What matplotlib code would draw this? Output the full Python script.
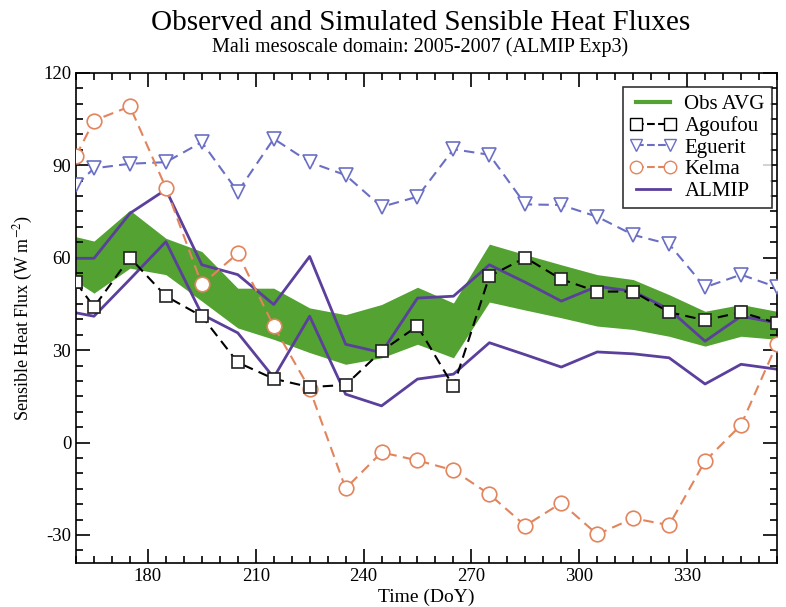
import matplotlib
matplotlib.use('Agg')
import matplotlib.pyplot as plt
from matplotlib.lines import Line2D
from matplotlib.ticker import MultipleLocator

plt.rcParams['font.family'] = ['Liberation Serif', 'DejaVu Serif']
plt.rcParams['mathtext.fontset'] = 'stix'
plt.rcParams['axes.unicode_minus'] = False

# Day of year for each point
days = [160, 165, 175, 185, 195, 205, 215, 225, 235, 245, 255,
        265, 275, 285, 295, 305, 315, 325, 335, 345, 355]

# Observed range (green band)
obs_max = [66.8, 65.4, 75.4, 66.3, 62.0, 50.1, 50.1, 43.7, 41.5, 44.8, 50.4,
           45.3, 64.4, 61.0, 57.7, 54.5, 52.9, 48.0, 42.6, 44.8, 42.6]
obs_min = [52.3, 48.5, 56.6, 54.5, 45.9, 37.2, 33.5, 29.2, 25.4, 27.5, 31.9,
           27.5, 45.6, 43.0, 40.5, 37.8, 36.7, 34.5, 31.3, 34.5, 33.5]

# Sites
agoufou = [52.0, 44.0, 60.0, 47.5, 41.0, 26.0, 20.7, 18.0, 18.7, 29.7, 37.8,
           18.2, 54.0, 60.0, 53.0, 49.0, 49.0, 42.3, 39.7, 42.3, 38.8]
eguerit = [83.5, 89.0, 90.5, 91.0, 97.5, 81.4, 98.6, 91.0, 86.8, 76.5, 79.8,
           95.2, 93.4, 77.3, 77.1, 73.3, 67.4, 64.4, 50.4, 54.5, 50.4]
kelma = [93.0, 104.5, 109.1, 82.7, 51.3, 61.4, 37.8, 17.4, -14.9, -3.2, -5.8,
         -9.0, -16.8, -27.0, -19.6, -29.8, -24.6, -26.8, -6.0, 5.7, 32.0]

# ALMIP model envelope
almip_max = [59.8, 59.8, 74.4, 82.1, 57.7, 54.5, 44.8, 60.4, 31.9, 29.2, 46.9,
             47.5, 57.7, 52.0, 45.9, 50.7, 49.1, 43.2, 32.9, 41.0, 38.8]
almip_min = [42.1, 41.0, 53.0, 65.2, 41.6, 35.6, 21.1, 41.0, 15.7, 11.9, 20.6,
             22.2, 32.4, 28.5, 24.5, 29.4, 28.8, 27.5, 19.0, 25.4, 23.8]

green = '#53a232'
blue = '#6b6fc4'
orange = '#e2845c'
purple = '#5b3f9c'

fig = plt.figure(figsize=(7.86, 6.07), dpi=100)
ax = fig.add_axes([0.0967, 0.073, 0.8918, 0.807])

ax.fill_between(days, obs_min, obs_max, color=green, lw=0, zorder=1)
ax.plot(days, almip_max, color=purple, lw=2, zorder=2)
ax.plot(days, almip_min, color=purple, lw=2, zorder=2)
ax.plot(days, eguerit, color=blue, ls='--', lw=1.5, dashes=(5, 3), marker='v',
        ms=10, mfc='white', mec=blue, mew=1.2, zorder=3)
ax.plot(days, kelma, color=orange, ls='--', lw=1.5, dashes=(5, 3), marker='o',
        ms=10.5, mfc='white', mec=orange, mew=1.2, zorder=4)
ax.plot(days, agoufou, color='black', ls='--', lw=1.5, dashes=(5, 3), marker='s',
        ms=9, mfc='white', mec='#222222', mew=1.2, zorder=5)

ax.set_xlim(160, 355)
ax.set_ylim(-39, 120)
ax.xaxis.set_major_locator(MultipleLocator(30))
ax.xaxis.set_minor_locator(MultipleLocator(5))
ax.yaxis.set_major_locator(MultipleLocator(30))
ax.yaxis.set_minor_locator(MultipleLocator(5))
ax.tick_params(which='both', direction='in', top=True, right=True,
               labelsize=13.5, width=1.2)
ax.tick_params(which='major', length=10)
ax.tick_params(which='minor', length=5)
ax.set_xticks([180, 210, 240, 270, 300, 330])
for s in ax.spines.values():
    s.set_linewidth(1.2)

ax.set_xlabel('Time (DoY)', fontsize=14, labelpad=3)
ax.set_ylabel('Sensible Heat Flux (W m$^{-2}$)', fontsize=13, labelpad=6)

fig.text(0.535, 0.962, 'Observed and Simulated Sensible Heat Fluxes',
         ha='center', va='center', fontsize=21)
fig.text(0.535, 0.922, 'Mali mesoscale domain: 2005-2007 (ALMIP Exp3)',
         ha='center', va='center', fontsize=14.5)

handles = [
    Line2D([], [], color=green, lw=3),
    Line2D([], [], color='black', ls='--', marker='s', ms=9, mfc='white',
           mec='black'),
    Line2D([], [], color=blue, ls='--', marker='v', ms=9, mfc='white',
           mec=blue),
    Line2D([], [], color=orange, ls='--', marker='o', ms=9, mfc='white',
           mec=orange),
    Line2D([], [], color=purple, lw=2),
]
labels = ['Obs AVG', 'Agoufou', 'Eguerit', 'Kelma', 'ALMIP']
leg = ax.legend(handles, labels, loc='upper right', bbox_to_anchor=(0.993, 0.971),
                borderaxespad=0, fontsize=15, frameon=True, fancybox=False,
                edgecolor='black', handlelength=2.2, handletextpad=0.4,
                borderpad=0.35, labelspacing=0.1, numpoints=2)
leg.get_frame().set_linewidth(1.2)

fig.savefig('out.png', dpi=100)
